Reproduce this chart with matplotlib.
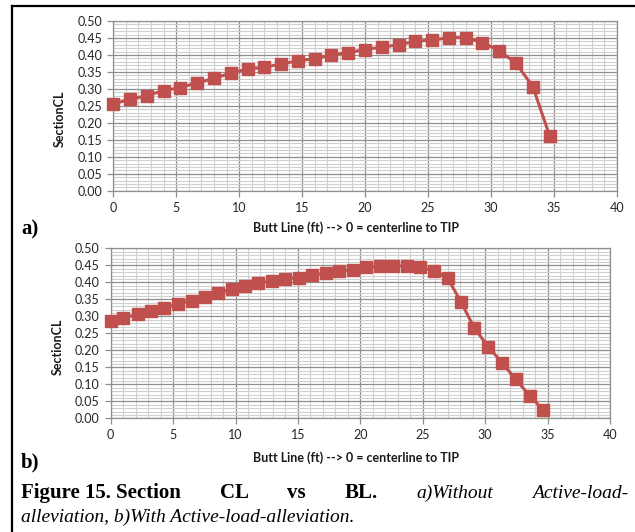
import matplotlib
matplotlib.use("Agg")
import matplotlib.pyplot as plt
from matplotlib.lines import Line2D
from matplotlib.ticker import MultipleLocator, FormatStrFormatter

# ---- data ----
bl_a = [0, 1.33, 2.67, 4.0, 5.33, 6.67, 8.0, 9.33, 10.67, 12.0, 13.33, 14.67,
        16.0, 17.33, 18.67, 20.0, 21.33, 22.67, 24.0, 25.33, 26.67, 28.0,
        29.33, 30.67, 32.0, 33.33, 34.67]
cl_a = [0.255, 0.270, 0.280, 0.295, 0.304, 0.318, 0.331, 0.346, 0.359, 0.364,
        0.373, 0.383, 0.389, 0.400, 0.407, 0.416, 0.423, 0.430, 0.440, 0.444,
        0.451, 0.451, 0.436, 0.413, 0.375, 0.307, 0.162]

bl_b = [0, 1.01, 2.15, 3.19, 4.31, 5.40, 6.49, 7.55, 8.56, 9.71, 10.74, 11.84,
        12.93, 13.99, 15.05, 16.1, 17.25, 18.32, 19.44, 20.45, 21.58, 22.65,
        23.77, 24.81, 25.88, 27.0, 28.05, 29.14, 30.24, 31.34, 32.43, 33.56,
        34.63]
cl_b = [0.286, 0.295, 0.306, 0.316, 0.325, 0.336, 0.346, 0.356, 0.370, 0.379,
        0.390, 0.397, 0.405, 0.411, 0.414, 0.422, 0.426, 0.434, 0.436, 0.444,
        0.448, 0.448, 0.448, 0.444, 0.434, 0.412, 0.343, 0.265, 0.211, 0.164,
        0.115, 0.067, 0.025]

x_label = "Butt Line (ft) --> 0 = centerline to TIP"
y_label = "SectionCL"
panel_labels = ["a)", "b)"]
caption_line1 = [("Figure 15. Section", "bold", "normal"),
                 ("CL", "bold", "normal"), ("vs", "bold", "normal"),
                 ("BL.", "bold", "normal"), ("a)Without", "normal", "italic"),
                 ("Active-load-", "normal", "italic")]
caption_line2 = "alleviation, b)With Active-load-alleviation."

W, H = 635, 532
fig = plt.figure(figsize=(W / 100, H / 100), dpi=100)
fig.patch.set_facecolor("white")

def px(x, y):
    return x / W, 1 - y / H

RED = "#C0504D"
TICKC = "#262626"
LABC = "#1a1a1a"

def make_ax(l, t, r, b):
    ax = fig.add_axes([l / W, 1 - b / H, (r - l) / W, (b - t) / H])
    ax.set_xlim(0, 40)
    ax.set_ylim(0, 0.5)
    ax.xaxis.set_major_locator(MultipleLocator(5))
    ax.xaxis.set_minor_locator(MultipleLocator(1))
    ax.yaxis.set_major_locator(MultipleLocator(0.05))
    ax.yaxis.set_minor_locator(MultipleLocator(0.01))
    ax.yaxis.set_major_formatter(FormatStrFormatter("%.2f"))
    ax.grid(which="minor", color="#cfcfcf", lw=0.8)
    ax.grid(which="major", color="#8f8f8f", lw=0.9)
    ax.set_axisbelow(True)
    for s in ax.spines.values():
        s.set_color("#8f8f8f")
        s.set_linewidth(0.9)
    ax.tick_params(which="major", length=4, width=0.9, color="#8f8f8f",
                   labelsize=9, labelcolor=TICKC, pad=4)
    ax.tick_params(which="minor", length=0)
    for lab in ax.get_xticklabels() + ax.get_yticklabels():
        lab.set_fontfamily("Lato")
    return ax

ax1 = make_ax(113.3, 21, 616.7, 190.7)
ax1.plot(bl_a, cl_a, color=RED, lw=2.2, marker="s", ms=8, mec=RED, mfc=RED,
         clip_on=False, zorder=5)
ax2 = make_ax(110.7, 248.3, 610, 418.3)
ax2.plot(bl_b, cl_b, color=RED, lw=2.2, marker="s", ms=8, mec=RED, mfc=RED,
         clip_on=False, zorder=5)

# axis labels
for (xx, yy) in [(356, 228), (356, 458)]:
    fig.text(*px(xx, yy), x_label, fontfamily="Lato", fontweight="bold",
             fontsize=9, color=LABC, ha="center", va="center")
for (xx, yy) in [(60, 119), (58, 347)]:
    fig.text(*px(xx, yy), y_label, fontfamily="Lato", fontweight="bold",
             fontsize=9, color=LABC, ha="center", va="center", rotation=90)

# panel labels
fig.text(*px(21, 234), panel_labels[0], fontfamily="Liberation Serif",
         fontweight="bold", fontsize=15, ha="left", va="baseline")
fig.text(*px(21, 467), panel_labels[1], fontfamily="Liberation Serif",
         fontweight="bold", fontsize=15, ha="left", va="baseline")

# caption, line 1 justified
renderer = fig.canvas.get_renderer()
left, right, base1 = 21, 628, 498
texts = []
total = 0
for word, wt, st in caption_line1:
    size = 15 if wt == "bold" else 14
    t = fig.text(0, 0, word, fontfamily="Liberation Serif", fontweight=wt,
                 fontstyle=st, fontsize=size, ha="left", va="baseline")
    w = t.get_window_extent(renderer).width
    texts.append((t, w))
    total += w
gap = (right - left - total) / (len(texts) - 1)
xpos = left
for t, w in texts:
    t.set_position(px(xpos, base1))
    xpos += w + gap

fig.text(*px(21, 522), caption_line2, fontfamily="Liberation Serif",
         fontstyle="italic", fontsize=14, ha="left", va="baseline")

# border frame
fig.add_artist(Line2D([11.5 / W, 11.5 / W], [0, 1 - 5.5 / H],
                      transform=fig.transFigure, color="black", lw=1.6))
fig.add_artist(Line2D([11.5 / W, 1], [1 - 5.5 / H, 1 - 5.5 / H],
                      transform=fig.transFigure, color="black", lw=1.6))

fig.savefig("out.png", dpi=100)
